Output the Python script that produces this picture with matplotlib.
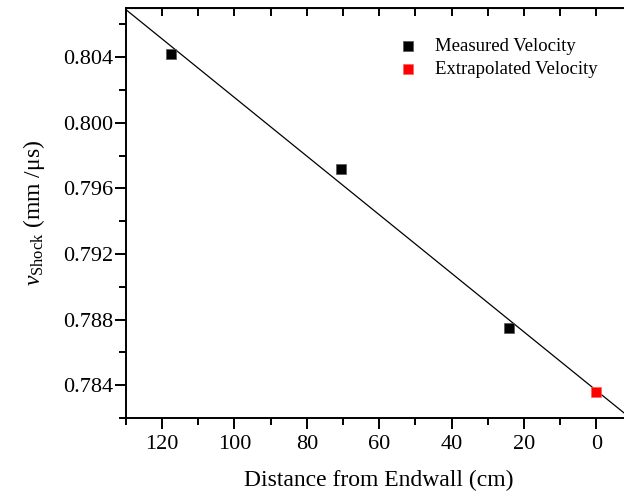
import numpy as np
import matplotlib
matplotlib.use('Agg')
import matplotlib.pyplot as plt
from matplotlib.ticker import MultipleLocator

# distance from endwall (cm) and measured shock velocity (mm/us)
dist_meas = [117.5, 70.5, 24.0]
vel_meas = [0.8042, 0.7972, 0.7875]
# value at the endwall from the linear fit
dist_extra = [0.0]
vel_extra = [0.7836]

plt.rcParams['font.family'] = ['Liberation Serif', 'DejaVu Serif']
plt.rcParams['mathtext.fontset'] = 'custom'
plt.rcParams['mathtext.rm'] = 'Liberation Serif'
plt.rcParams['mathtext.it'] = 'Liberation Serif:italic'

fig = plt.figure(figsize=(6.24, 4.97), dpi=100)
ax = fig.add_axes([0.2019, 0.159, 0.8115, 0.825])

# linear fit through the measured points
p = np.polyfit(dist_meas, vel_meas, 1)
xx = np.array([130, -10])
ax.plot(xx, np.polyval(p, xx), color='k', lw=0.9, zorder=2)

ax.scatter(dist_meas, vel_meas, marker='s', s=55, color='k', edgecolors='#555555',
           linewidths=0.5, zorder=3, label='Measured Velocity')
ax.scatter(dist_extra, vel_extra, marker='s', s=55, color='#ff0000', edgecolors='#ff6060',
           linewidths=0.5, zorder=3, label='Extrapolated Velocity')

ax.set_xlim(130, -10)
ax.set_ylim(0.782, 0.807)
ax.xaxis.set_major_locator(MultipleLocator(20))
ax.xaxis.set_minor_locator(MultipleLocator(10))
ax.yaxis.set_major_locator(MultipleLocator(0.004))
ax.yaxis.set_minor_locator(MultipleLocator(0.002))
ax.yaxis.set_major_formatter(matplotlib.ticker.FormatStrFormatter('%.3f'))

for s in ax.spines.values():
    s.set_linewidth(1.4)
ax.spines['right'].set_visible(False)
ax.tick_params(which='major', direction='out', length=8, width=1.4, labelsize=16)
ax.tick_params(axis='y', which='major', pad=1)
ax.tick_params(axis='x', which='major', pad=4)
ax.tick_params(which='minor', direction='out', length=5, width=1.4)

# top axis: inward ticks, no labels
top = ax.secondary_xaxis('top')
top.xaxis.set_major_locator(MultipleLocator(10))
top.tick_params(which='major', direction='in', length=6, width=1.4, labeltop=False)
top.xaxis.set_minor_locator(matplotlib.ticker.NullLocator())

ax.set_xlabel('Distance from Endwall (cm)', fontsize=17, labelpad=12)
ax.set_ylabel(r'$\mathit{v}_{\mathrm{Shock}}$ (mm /μs)', fontsize=17, labelpad=12)

ax.legend(loc='upper left', bbox_to_anchor=(0.538, 0.927), frameon=False, fontsize=13.5,
          handlelength=1.0, handletextpad=0.95, scatterpoints=1, borderaxespad=0,
          borderpad=0, labelspacing=0.3)

fig.savefig('out.png', dpi=100)
